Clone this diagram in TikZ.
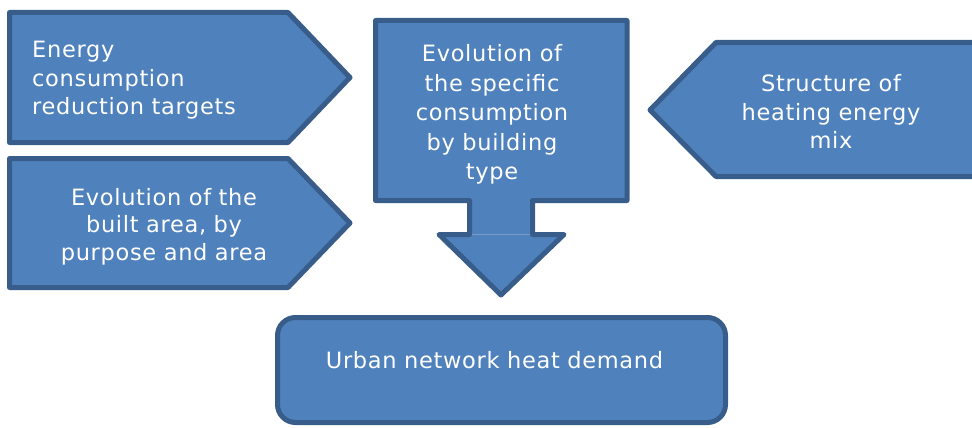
\documentclass[tikz,border=0pt]{standalone}
\usepackage{fontspec}
\setmainfont{DejaVu Sans}[LetterSpace=3]
\definecolor{boxfill}{HTML}{4F81BD}
\definecolor{boxline}{HTML}{385D8A}
\definecolor{seam}{HTML}{7A9CCB}
\begin{document}
\begin{tikzpicture}[x=1pt,y=-1pt,
  shapebox/.style={fill=boxfill,draw=boxline,line width=5pt,line join=round},
  lbl/.style={text=white,inner sep=0pt,align=center,anchor=base,
    font=\fontsize{22.5}{28.5}\selectfont}]
\useasboundingbox (0,0) rectangle (972,428);
\clip (0,0) rectangle (972,428);
% left pentagons
\draw[shapebox] (9.5,12.5) -- (288,12.5) -- (350,77.5) -- (288,142.5) -- (9.5,142.5) -- cycle;
\draw[shapebox] (9.5,158.5) -- (288,158.5) -- (350,223) -- (288,287.5) -- (9.5,287.5) -- cycle;
% right pentagon
\draw[shapebox] (990,42.5) -- (716,42.5) -- (650,110) -- (716,176.5) -- (990,176.5) -- cycle;
% central callout arrow
\draw[shapebox] (375.5,20.5) -- (627,20.5) -- (627,200.5) -- (532.5,200.5) -- (532.5,234.5)
  -- (564,234.5) -- (501,295) -- (439,234.5) -- (469.5,234.5) -- (469.5,200.5) -- (375.5,200.5) -- cycle;
\draw[seam,line width=0.8pt] (472,234.5) -- (530,234.5);
% bottom rounded box
\draw[shapebox,rounded corners=18pt] (277.5,317.5) rectangle (725.5,422.5);
% texts
\node[lbl,text width=280pt,align=left,anchor=base west] (t1) at (32,58) {Energy\\consumption\\reduction targets};
\node[lbl,text width=280pt,font=\fontsize{22.5}{27.8}\selectfont] (t2) at (164,205) {Evolution of the\\built area, by\\purpose and area};
\node[lbl,text width=240pt,font=\fontsize{22.5}{29.5}\selectfont] (t3) at (492,62) {Evolution of\\the specific\\consumption\\by building\\type};
\node[lbl,text width=240pt] (t4) at (831,92) {Structure of\\heating energy\\mix};
\node[lbl,text width=420pt] (t5) at (494.5,368) {Urban network heat demand};
\end{tikzpicture}
\end{document}
